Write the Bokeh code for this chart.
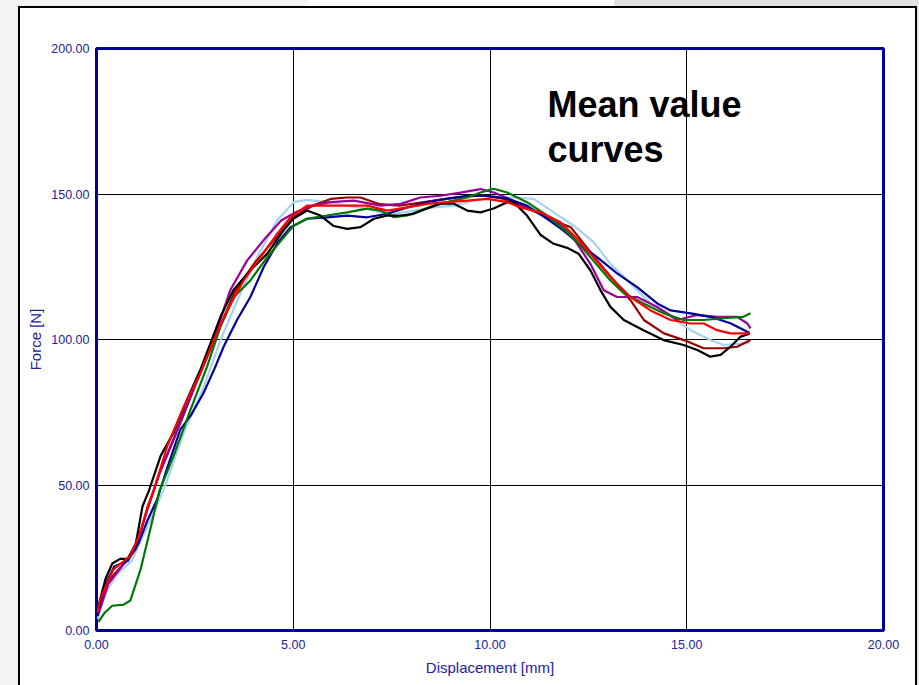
from bokeh.plotting import figure
from bokeh.models import Range1d, FixedTicker, PrintfTickFormatter, Label
from bokeh.embed import file_html
from bokeh.resources import INLINE

# ---------------- data ----------------
x_ticks = [0, 5, 10, 15, 20]
y_ticks = [0, 50, 100, 150, 200]

black_x = [0.03, 0.23, 0.4, 0.6, 0.8, 1.0, 1.17, 1.33, 1.63, 1.96, 2.3, 2.64, 2.9, 3.15, 3.48, 3.91, 4.34, 4.75, 5.0,
           5.35, 5.69, 6.03, 6.37, 6.71, 7.05, 7.39, 7.73, 8.06, 8.4, 8.74, 9.07, 9.42, 9.76, 10.09, 10.44, 10.6,
           10.94, 11.28, 11.6, 11.96, 12.25, 12.55, 12.81, 13.06, 13.4, 13.9, 14.41, 14.92, 15.27, 15.6, 15.86,
           16.11, 16.37, 16.6]
black_y = [7.5, 17.8, 23, 24.6, 24.6, 30, 42.7, 48, 60, 68, 79.3, 89.6, 98.8, 107.8, 117, 123.8, 129.5, 137.4, 141.5,
           144.3, 142.6, 139, 138, 138.6, 141.5, 142.6, 142.6, 143.2, 145, 146.7, 146.7, 144.3, 143.7, 145, 147.2,
           147.2, 142.6, 136, 133, 131.5, 129.5, 123.8, 116.9, 111.2, 106.7, 103.2, 99.8, 98.1, 96.4, 94.1, 94.7,
           97.5, 101, 102]

navy_x = [0.02, 0.2, 0.45, 0.8, 1.07, 1.3, 1.54, 1.8, 2.13, 2.4, 2.72, 3.0, 3.23, 3.57, 3.91, 4.25, 4.59, 4.93, 5.35,
          5.86, 6.37, 6.88, 7.39, 7.9, 8.4, 8.91, 9.42, 9.93, 10.44, 10.94, 11.45, 11.87, 12.3, 12.72, 13.23, 13.74,
          14.25, 14.59, 15.1, 15.6, 16.11, 16.6]
navy_y = [5, 15, 22, 24, 30, 38, 45, 56, 69, 74, 81.6, 90, 97.5, 106.7, 114.6, 124.9, 133, 138.6, 141.5, 142, 142.6,
          142, 143.2, 145.4, 147.2, 148.4, 149.4, 149.4, 148.4, 146, 141.5, 137.4, 132.5, 128.3, 122.7, 118, 112.4,
          110, 109, 107.8, 105.6, 102.2]

green_x = [0.05, 0.2, 0.4, 0.69, 0.86, 1.12, 1.37, 1.6, 1.96, 2.39, 2.81, 3.15, 3.49, 3.91, 4.34, 4.76, 5.0, 5.35,
           5.86, 6.37, 6.88, 7.22, 7.56, 7.9, 8.23, 8.57, 8.91, 9.42, 9.76, 10.09, 10.44, 10.94, 11.45, 11.96, 12.3,
           12.55, 13.06, 13.4, 13.9, 14.41, 14.92, 15.43, 15.93, 16.44, 16.62]
green_y = [3, 6, 8.5, 8.9, 10.3, 21, 35, 48, 60, 75.9, 90.7, 104.4, 114.6, 120.3, 128.3, 135.1, 139, 141.5, 142.6,
           143.7, 145, 144.3, 142, 142.6, 144.3, 146, 147.2, 148.8, 150.5, 151.8, 150.5, 147.2, 142.6, 136.9, 132.3,
           128.3, 120.3, 115.9, 112.4, 109, 106.7, 106.7, 107.3, 107.8, 109]

red_x = [0.02, 0.1, 0.43, 0.86, 1.12, 1.3, 1.45, 1.8, 2.22, 2.64, 2.98, 3.32, 3.74, 4.17, 4.59, 4.93, 5.35, 5.86,
         6.37, 6.88, 7.39, 7.9, 8.4, 8.91, 9.42, 9.93, 10.44, 10.77, 11.28, 11.79, 12.3, 12.55, 13.06, 13.57, 14.08,
         14.59, 15.1, 15.43, 15.77, 16.11, 16.6]
red_y = [6, 11, 21, 25.6, 33.8, 42.7, 48, 63.4, 77, 88.4, 99.8, 110, 120.3, 128.3, 136.3, 142, 146, 146, 146, 146,
         144.3, 145.4, 146.6, 147.2, 147.7, 148.3, 147.2, 145.4, 143.7, 140.3, 133.4, 129.5, 121.5, 114.6, 110, 106.7,
         105.5, 105.5, 103.2, 102.1, 102.1]

purple_x = [0.03, 0.3, 0.7, 1.0, 1.3, 1.6, 2.0, 2.5, 3.0, 3.4, 3.83, 4.3, 4.7, 5.1, 5.5, 5.95, 6.54, 7.22, 7.73, 8.23,
            8.74, 9.25, 9.76, 10.1, 10.6, 11.0, 11.54, 12.05, 12.55, 12.89, 13.23, 13.74, 14.25, 14.76, 15.26, 15.77,
            16.28, 16.54, 16.62]
purple_y = [5, 16, 23, 28, 42, 54, 67, 84, 101, 117, 127.2, 135, 141, 144, 146, 147.2, 147.7, 146, 146.6, 148.8,
            149.4, 150.5, 151.7, 150.5, 147.7, 145, 142, 136.3, 126, 116.9, 114.6, 114.6, 111.2, 106.7, 108.4, 107.8,
            107.8, 105.5, 103.8]

darkred_x = [0.03, 0.3, 0.7, 1.0, 1.3, 1.6, 2.0, 2.5, 3.0, 3.5, 4.0, 4.5, 5.0, 5.5, 5.95, 6.37, 6.71, 7.2, 7.7, 8.2,
             8.7, 9.3, 9.8, 10.3, 10.8, 11.3, 11.6, 12.05, 12.72, 13.15, 13.57, 13.91, 14.42, 14.93, 15.43, 15.94,
             16.28, 16.62]
darkred_y = [6, 17, 23, 29, 42, 54, 67, 84, 100, 116, 126, 134, 142, 146, 148.3, 148.8, 148.8, 146.5, 146, 147, 148,
             149, 149.5, 148.5, 146, 143, 141, 138.6, 127.2, 120.3, 113.5, 106.7, 102.1, 99.8, 97, 97, 97.5, 99.8]

lightblue_x = [0.03, 0.2, 0.5, 0.9, 1.2, 1.5, 1.71, 2.22, 2.73, 3.15, 3.58, 4.08, 4.59, 5.01, 5.35, 5.86, 6.37, 6.88,
               7.22, 7.56, 8.06, 8.57, 9.08, 9.59, 10.1, 10.6, 11.11, 11.62, 12.13, 12.64, 13.06, 13.57, 14.08, 14.59,
               15.1, 15.6, 15.94, 16.45, 16.6]
lightblue_y = [4, 12, 19, 24, 33, 42, 48.5, 68, 83.9, 99.8, 113.5, 128.3, 140.9, 147.2, 148, 147.2, 146, 144.9, 143.7,
               143.2, 144.3, 145.4, 146, 147.7, 148.8, 148.8, 148.3, 143.7, 139.1, 133.4, 126, 119.2, 112.4, 107.8,
               103.2, 99.8, 98.1, 98.7, 98.8]

series = [
    (lightblue_x, lightblue_y, "#a6d2f0"),
    (darkred_x, darkred_y, "#990000"),
    (purple_x, purple_y, "#990099"),
    (navy_x, navy_y, "#000099"),
    (green_x, green_y, "#007700"),
    (black_x, black_y, "#000000"),
    (red_x, red_y, "#ff0000"),
]

TEXT_BLUE = "#22229a"

# page decoration behind the (transparent) border area: gray strips and black frame lines
layers = [
    ("#000000", "18px 6px", "2px 679px"),
    ("#000000", "18px 6px", "899px 2px"),
    ("#000000", "915px 6px", "2px 679px"),
    ("#f3f3f3", "0px 0px", "18px 685px"),
    ("#f3f3f3", "0px 0px", "308px 6px"),
    ("#e1e1e1", "614px 0px", "305px 6px"),
    ("#e6e6e6", "917px 0px", "2px 685px"),
]
page_styles = {
    "background-color": "white",
    "background-image": ", ".join(f"linear-gradient({c}, {c})" for c, _, _ in layers),
    "background-position": ", ".join(pos for _, pos, _ in layers),
    "background-size": ", ".join(sz for _, _, sz in layers),
    "background-repeat": "no-repeat",
}

p = figure(width=919, height=685, output_backend="svg", toolbar_location=None,
           x_range=Range1d(0, 20), y_range=Range1d(0, 200),
           min_border_left=96, min_border_right=36, min_border_top=48, min_border_bottom=55,
           background_fill_color="white", border_fill_color=None, styles=page_styles)

for xs, ys, c in series:
    p.line(xs, ys, line_color=c, line_width=2.2)

p.xaxis.ticker = FixedTicker(ticks=x_ticks)
p.yaxis.ticker = FixedTicker(ticks=y_ticks)
p.axis.formatter = PrintfTickFormatter(format="%.2f")
p.axis.axis_line_color = None
p.axis.major_tick_line_color = None
p.axis.minor_tick_line_color = None
p.axis.major_tick_in = 0
p.axis.major_tick_out = 0
p.axis.major_label_text_font = "Liberation Sans"
p.axis.major_label_text_font_size = "12.5px"
p.axis.major_label_text_color = TEXT_BLUE
p.xaxis.major_label_standoff = 9
p.yaxis.major_label_standoff = 7
p.xaxis.axis_label = "Displacement [mm]"
p.yaxis.axis_label = "Force [N]"
p.axis.axis_label_text_font = "Liberation Sans"
p.axis.axis_label_text_font_style = "normal"
p.axis.axis_label_text_font_size = "15px"
p.axis.axis_label_text_color = TEXT_BLUE
p.xaxis.axis_label_standoff = 7
p.yaxis.axis_label_standoff = 4

p.grid.grid_line_color = "black"
p.grid.grid_line_width = 1
p.grid.grid_line_alpha = 1.0

p.outline_line_color = "#000099"
p.outline_line_width = 3
p.outline_line_alpha = 1.0

p.add_layout(Label(x=11.46, y=180.8, text="Mean value", text_font="Liberation Sans",
                   text_font_style="bold", text_font_size="36px", text_color="black",
                   text_baseline="alphabetic"))
p.add_layout(Label(x=11.46, y=165.4, text="curves", text_font="Liberation Sans",
                   text_font_style="bold", text_font_size="36px", text_color="black",
                   text_baseline="alphabetic"))

open("out.html", "w").write(file_html(p, INLINE))
